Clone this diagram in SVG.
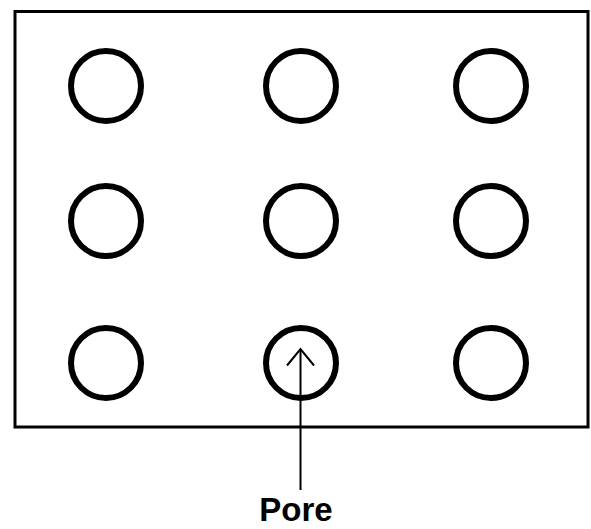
<svg xmlns="http://www.w3.org/2000/svg" width="591" height="529" viewBox="0 0 591 529">
<style>
.pore{fill:none;stroke:#000;stroke-width:6}
.conn{fill:none;stroke:#000;stroke-width:2}
.label{font-family:"Liberation Sans",Arial,sans-serif;font-weight:bold;font-size:33px;fill:#000}
</style>
<rect x="0" y="0" width="591" height="529" fill="#fff"/>
<g id="frame"><rect x="15" y="11.5" width="573" height="415.5" fill="none" stroke="#000" stroke-width="3"/></g>
<g id="pore-1-1"><circle class="pore" cx="106" cy="86" r="35"/></g>
<g id="pore-1-2"><circle class="pore" cx="301" cy="86" r="35"/></g>
<g id="pore-1-3"><circle class="pore" cx="491" cy="86" r="35"/></g>
<g id="pore-2-1"><circle class="pore" cx="106" cy="221" r="35"/></g>
<g id="pore-2-2"><circle class="pore" cx="301" cy="221" r="35"/></g>
<g id="pore-2-3"><circle class="pore" cx="491" cy="221" r="35"/></g>
<g id="pore-3-1"><circle class="pore" cx="106" cy="363" r="35"/></g>
<g id="pore-3-2"><circle class="pore" cx="301" cy="363" r="35"/></g>
<g id="pore-3-3"><circle class="pore" cx="491" cy="363" r="35"/></g>
<g id="connectors">
<line class="conn" x1="300.5" y1="490" x2="300.5" y2="349"/>
<polyline class="conn" points="287,365.5 300.5,349 314,365.5"/>
</g>
<g id="label-pore"><text class="label" x="296" y="521" text-anchor="middle">Pore</text></g>
</svg>
